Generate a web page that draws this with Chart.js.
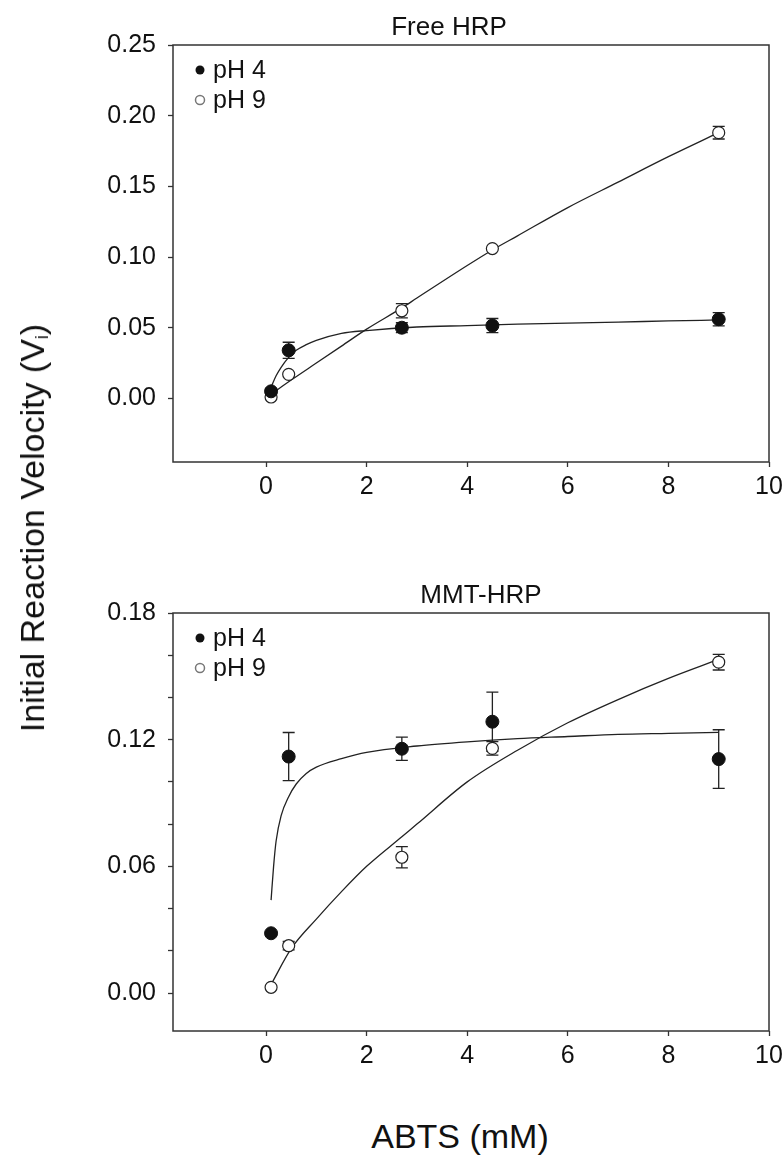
<!DOCTYPE html>
<html>
<head>
<meta charset="utf-8">
<script src="https://cdn.jsdelivr.net/npm/chart.js@4.4.0/dist/chart.umd.min.js"></script>
<style>
  body { margin: 0; background: #fff; width: 783px; height: 1163px; position: relative; overflow: hidden;
         font-family: "Liberation Sans", Arial, sans-serif; color: #111; }
  canvas { position: absolute; left: 0; }
  #topChart { top: 0; }
  #bottomChart { top: 568px; }
  .ytitle { position: absolute; left: 33px; top: 528px; transform: translate(-50%, -50%) rotate(-90deg);
            white-space: nowrap; font-size: 34px; line-height: 1; }
  .ytitle sub { font-size: 18px; vertical-align: -4px; }
  .xtitle { position: absolute; left: 460px; top: 1136px; transform: translate(-50%, -50%);
            white-space: nowrap; font-size: 34px; line-height: 1; }
</style>
</head>
<body>
<canvas id="topChart" width="783" height="530"></canvas>
<canvas id="bottomChart" width="783" height="530"></canvas>
<div class="ytitle">Initial Reaction Velocity (V<sub>i</sub>)</div>
<div class="xtitle">ABTS (mM)</div>
<script>
// ABTS concentrations (mM) of the measured points
const abts = [0.1, 0.45, 2.7, 4.5, 9.0];

// Free HRP
const freePh4 = [0.005, 0.034, 0.050, 0.0515, 0.056];
const freePh4Err = [0.002, 0.0057, 0.0035, 0.005, 0.0047];
const freePh9 = [0.001, 0.017, 0.062, 0.106, 0.188];
const freePh9Err = [0, 0, 0.005, 0, 0.0045];

// fitted curves
const freeFit4X = [0.1, 0.2, 0.3, 0.45, 0.6, 0.8, 1, 1.5, 2, 3, 4, 5, 6, 7, 8, 9];
const freeFit4Y = [0.008, 0.016, 0.022, 0.029, 0.034, 0.038, 0.041, 0.046, 0.048, 0.0505, 0.0515, 0.0525, 0.0533, 0.054, 0.0548, 0.0555];
const freeFit9X = [0.1, 0.5, 1, 1.5, 2, 2.7, 3, 4, 4.5, 5, 6, 7, 8, 9];
const freeFit9Y = [0.003, 0.013, 0.025, 0.037, 0.049, 0.064, 0.071, 0.094, 0.105, 0.115, 0.135, 0.153, 0.171, 0.188];

// MMT-HRP
const mmtPh4 = [0.0283, 0.112, 0.1157, 0.1285, 0.1108];
const mmtPh4Err = [0, 0.0114, 0.0055, 0.014, 0.0139];
const mmtPh9 = [0.0027, 0.0224, 0.0643, 0.1159, 0.1567];
const mmtPh9Err = [0, 0.002, 0.005, 0.0032, 0.0037];

const mmtFit4X = [0.1, 0.15, 0.2, 0.3, 0.45, 0.6, 0.8, 1, 1.5, 2, 3, 4, 5, 6, 7, 8, 9];
const mmtFit4Y = [0.044, 0.060, 0.072, 0.084, 0.093, 0.099, 0.104, 0.107, 0.111, 0.114, 0.117, 0.119, 0.1205, 0.1215, 0.1225, 0.123, 0.1235];
const mmtFit9X = [0.1, 0.5, 1, 1.5, 2, 2.7, 3, 4, 5, 6, 7, 8, 9];
const mmtFit9Y = [0.004, 0.021, 0.035, 0.048, 0.060, 0.074, 0.080, 0.100, 0.115, 0.128, 0.139, 0.149, 0.158];

const xTicks = [0, 2, 4, 6, 8, 10];

const FONT = '"Liberation Sans", Arial, sans-serif';
Chart.defaults.font.family = FONT;
Chart.defaults.color = '#111';

function pts(xs, ys) {
    return xs.map((x, i) => ({ x: x, y: ys[i] }));
}

// box round the plot area
const framePlugin = {
    id: 'frame',
    beforeDatasetsDraw(chart) {
        const { ctx, chartArea: a } = chart;
        ctx.save();
        ctx.strokeStyle = '#333';
        ctx.lineWidth = 1.5;
        ctx.strokeRect(a.left, a.top, a.right - a.left, a.bottom - a.top);
        ctx.restore();
    }
};

// panel title above the plot
const panelTitle = {
    id: 'panelTitle',
    afterDraw(chart, args, opts) {
        const { ctx, chartArea } = chart;
        ctx.save();
        ctx.font = '26px ' + FONT;
        ctx.fillStyle = '#111';
        ctx.textAlign = 'center';
        ctx.textBaseline = 'middle';
        ctx.fillText(opts.text, opts.centerX, chartArea.top - 17);
        ctx.restore();
    }
};

// vertical error bars with caps
const errorBarPlugin = {
    id: 'errorBars',
    beforeDatasetsDraw(chart) {
        const { ctx } = chart;
        const yScale = chart.scales.y;
        chart.data.datasets.forEach((ds, di) => {
            if (!ds.errors) return;
            const meta = chart.getDatasetMeta(di);
            ctx.save();
            ctx.strokeStyle = '#222';
            ctx.lineWidth = 1.3;
            meta.data.forEach((el, i) => {
                const e = ds.errors[i];
                if (!e) return;
                const v = ds.data[i].y;
                const top = yScale.getPixelForValue(v + e);
                const bot = yScale.getPixelForValue(v - e);
                ctx.beginPath();
                ctx.moveTo(el.x, top); ctx.lineTo(el.x, bot);
                ctx.moveTo(el.x - 6, top); ctx.lineTo(el.x + 6, top);
                ctx.moveTo(el.x - 6, bot); ctx.lineTo(el.x + 6, bot);
                ctx.stroke();
            });
            ctx.restore();
        });
    }
};

// legend drawn inside the plot, top left
const insideLegend = {
    id: 'insideLegend',
    afterDraw(chart) {
        const { ctx, chartArea } = chart;
        let row = 0;
        chart.data.datasets.forEach(ds => {
            if (!ds.legendEntry) return;
            const x = chartArea.left + 27;
            const y = chartArea.top + 25 + row * 30;
            ctx.save();
            ctx.beginPath();
            ctx.arc(x, y, 4.5, 0, Math.PI * 2);
            if (ds.legendEntry === 'filled') {
                ctx.fillStyle = '#111';
                ctx.fill();
            } else {
                ctx.fillStyle = '#fff';
                ctx.fill();
                ctx.strokeStyle = '#777';
                ctx.lineWidth = 1.5;
                ctx.stroke();
            }
            ctx.font = '25px ' + FONT;
            ctx.textBaseline = 'middle';
            ctx.fillStyle = '#111';
            ctx.fillText(ds.label, x + 13, y + 1);
            ctx.restore();
            row++;
        });
    }
};

function makeChart(id, title, titleX, datasets, yOpts, xAxisHeight) {
    return new Chart(document.getElementById(id), {
        type: 'scatter',
        data: { datasets: datasets },
        options: {
            responsive: false,
            animation: false,
            events: [],
            layout: { padding: { top: 45, left: 0, right: 14, bottom: 0 } },
            plugins: {
                legend: { display: false },
                tooltip: { enabled: false },
                title: { display: false },
                panelTitle: { text: title, centerX: titleX }
            },
            scales: {
                x: {
                    type: 'linear',
                    min: -1.85,
                    max: 10,
                    afterFit: s => { s.height = xAxisHeight; s.paddingLeft = 0; s.paddingRight = 0; },
                    afterBuildTicks: s => { s.ticks = xTicks.map(v => ({ value: v })); },
                    border: { display: false },
                    grid: { drawOnChartArea: false, drawTicks: true, tickLength: 5, tickColor: '#333', tickWidth: 1.3 },
                    ticks: { padding: 5, font: { size: 25 }, color: '#111', maxRotation: 0 }
                },
                y: {
                    type: 'linear',
                    min: yOpts.min,
                    max: yOpts.max,
                    afterFit: s => { s.width = 173; s.paddingTop = 0; s.paddingBottom = 0; },
                    border: { display: false },
                    grid: { drawOnChartArea: false, drawTicks: true, tickLength: 5, tickColor: '#333', tickWidth: 1.3 },
                    ticks: {
                        stepSize: yOpts.step,
                        includeBounds: false,
                        padding: 12,
                        font: { size: 25 },
                        color: '#111',
                        callback: yOpts.label
                    }
                }
            }
        },
        plugins: [framePlugin, errorBarPlugin, insideLegend, panelTitle]
    });
}

function seriesSets(ph4, ph4Err, ph9, ph9Err, fit4X, fit4Y, fit9X, fit9Y) {
    return [
        {
            label: 'pH 4', legendEntry: 'filled', order: 0,
            data: pts(abts, ph4), errors: ph4Err,
            pointRadius: 6.5, pointBackgroundColor: '#111', pointBorderColor: '#111', pointBorderWidth: 1
        },
        {
            label: 'pH 9', legendEntry: 'open', order: 0,
            data: pts(abts, ph9), errors: ph9Err,
            pointRadius: 6, pointBackgroundColor: '#fff', pointBorderColor: '#222', pointBorderWidth: 1.2
        },
        {
            label: 'pH 4 fit', order: 1, data: pts(fit4X, fit4Y), showLine: true,
            pointRadius: 0, borderColor: '#222', borderWidth: 1.3, cubicInterpolationMode: 'monotone'
        },
        {
            label: 'pH 9 fit', order: 1, data: pts(fit9X, fit9Y), showLine: true,
            pointRadius: 0, borderColor: '#222', borderWidth: 1.3, cubicInterpolationMode: 'monotone'
        }
    ];
}

makeChart('topChart', 'Free HRP', 449,
    seriesSets(freePh4, freePh4Err, freePh9, freePh9Err, freeFit4X, freeFit4Y, freeFit9X, freeFit9Y),
    { min: -0.045, max: 0.25, step: 0.05, label: v => v.toFixed(2) },
    68);

makeChart('bottomChart', 'MMT-HRP', 481,
    seriesSets(mmtPh4, mmtPh4Err, mmtPh9, mmtPh9Err, mmtFit4X, mmtFit4Y, mmtFit9X, mmtFit9Y),
    {
        min: -0.018, max: 0.18, step: 0.02,
        label: v => {
            const k = v / 0.06;
            return Math.abs(k - Math.round(k)) < 1e-6 ? v.toFixed(2) : '';
        }
    },
    67);
</script>
</body>
</html>
